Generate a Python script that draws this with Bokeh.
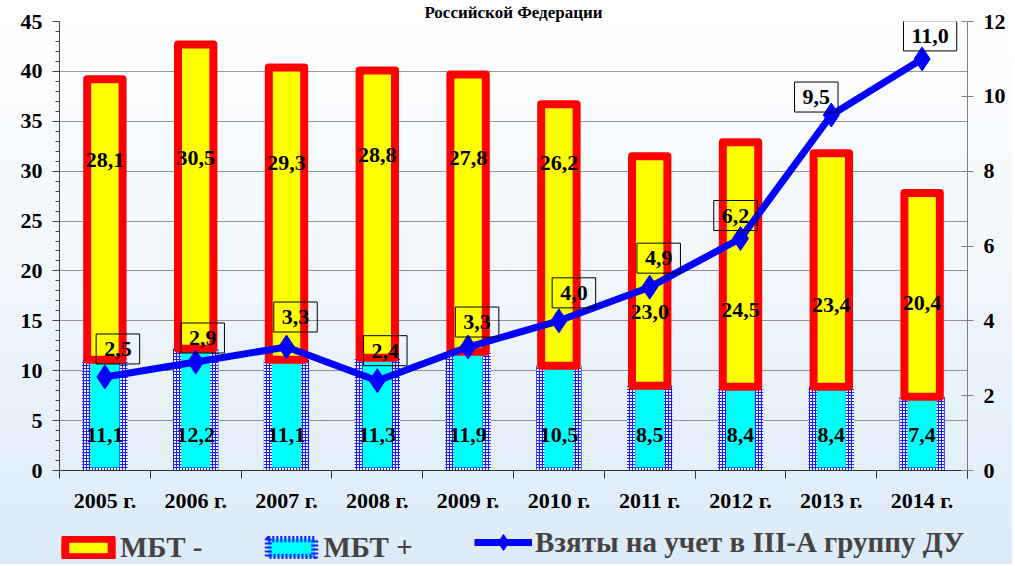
import numpy as np
from bokeh.plotting import figure
from bokeh.layouts import column
from bokeh.models import (Range1d, LinearAxis, FixedTicker, Legend, LegendItem,
                          ColumnDataSource)
from bokeh.core.properties import value
from bokeh.embed import file_html
from bokeh.resources import INLINE

# ---------------- data ----------------
years = ["2005 г.", "2006 г.", "2007 г.", "2008 г.", "2009 г.",
         "2010 г.", "2011 г.", "2012 г.", "2013 г.", "2014 г."]
mbt_plus = [11.1, 12.2, 11.1, 11.3, 11.9, 10.5, 8.5, 8.4, 8.4, 7.4]
mbt_minus = [28.1, 30.5, 29.3, 28.8, 27.8, 26.2, 23.0, 24.5, 23.4, 20.4]
group_3a = [2.5, 2.9, 3.3, 2.4, 3.3, 4.0, 4.9, 6.2, 9.5, 11.0]
left_ticks = [0, 5, 10, 15, 20, 25, 30, 35, 40, 45]
right_ticks = [0, 2, 4, 6, 8, 10, 12]
series_names = ["МБТ -", "МБТ +", "Взяты на учет в III-А группу ДУ"]
title_text = "Российской Федерации"

# ---------------- label layout ----------------
minus_label_y = [31.1, 31.3, 30.8, 31.6, 31.3, 30.8, 15.9, 16.1, 16.6, 16.8]
plus_label_y = 3.6
box_dx = [13, 7, 9, 8, 9, 15, 9, -5, -15, 8]
box_dy = [28, 24, 30, 30, 25, 28, 29, 23, 18, 23]

FONT = "Liberation Serif"
W = 1012


def fmt(v):
    return f"{v:.1f}".replace(".", ",")


xs = list(range(len(years)))
totals = [a + b for a, b in zip(mbt_plus, mbt_minus)]

src = ColumnDataSource(dict(
    x=xs, plus=mbt_plus, total=totals, g=group_3a,
    glab=[fmt(v) for v in group_3a], dx=box_dx, dy=[-d for d in box_dy],
))

p = figure(width=W, height=515, x_range=Range1d(-0.5, 9.5), y_range=Range1d(0, 45),
           output_backend="svg", toolbar_location=None,
           min_border_left=59, min_border_right=45, min_border_top=20, min_border_bottom=43)
p.border_fill_color = None
p.background_fill_color = None
p.outline_line_color = None

p.title.text = title_text
p.title.align = "center"
p.title.text_font = FONT
p.title.text_font_style = "bold"
p.title.text_font_size = "17px"
p.title.text_color = "black"
p.title.standoff = 0
p.title.offset = 0

# x axis: labels at centers, ticks at boundaries
p.xaxis.ticker = FixedTicker(ticks=xs, minor_ticks=[i - 0.5 for i in range(len(years) + 1)])
p.xaxis.major_label_overrides = {i: y for i, y in zip(xs, years)}
p.xaxis.major_tick_out = 0
p.xaxis.major_tick_in = 0
p.xaxis.minor_tick_out = 8
p.xaxis.minor_tick_in = 0
p.xaxis.axis_line_color = "#333333"
p.xaxis.minor_tick_line_color = "#333333"
p.xaxis.major_label_standoff = 9
p.xgrid.visible = False

# left axis
p.yaxis.ticker = FixedTicker(ticks=left_ticks, minor_ticks=list(range(0, 46)))
p.yaxis.major_tick_out = 7
p.yaxis.major_tick_in = 0
p.yaxis.minor_tick_out = 4
p.yaxis.minor_tick_in = 0
p.yaxis.axis_line_color = "#444444"
p.yaxis.major_tick_line_color = "#444444"
p.yaxis.minor_tick_line_color = "#444444"
p.yaxis.major_label_standoff = 10

p.ygrid.ticker = FixedTicker(ticks=left_ticks)
p.ygrid.grid_line_color = "#333333"
p.ygrid.grid_line_dash = "1 1"
p.ygrid.grid_line_width = 1

# right axis
p.extra_y_ranges = {"r": Range1d(0, 12)}
rax = LinearAxis(y_range_name="r", ticker=FixedTicker(ticks=right_ticks, minor_ticks=[]))
rax.major_tick_in = 6
rax.major_tick_out = 6
rax.minor_tick_line_color = None
rax.axis_line_color = "#808080"
rax.major_tick_line_color = "#808080"
rax.major_label_standoff = 10
p.add_layout(rax, "right")

for ax in [p.xaxis[0], p.yaxis[0], rax]:
    ax.major_label_text_font = FONT
    ax.major_label_text_font_style = "bold"
    ax.major_label_text_font_size = "22px"
    ax.major_label_text_color = "black"

# bars: МБТ + (hatched border, cyan core)
p.vbar(x="x", top="plus", bottom=0, width=0.5, source=src,
       fill_color="white", line_color=None,
       hatch_pattern="cross", hatch_color="#1a1aff", hatch_scale=3, hatch_weight=1.2)
p.vbar(x="x", top="plus", bottom=0.3, width=0.32, source=src, fill_color="#00ffff", line_color=None)

# bars: МБТ - (red thick border, yellow)
p.vbar(x="x", bottom="plus", top="total", width=0.39, source=src,
       fill_color="#ffff00", line_color="#ff0000", line_width=8, line_join="round")

# line
p.line(x="x", y="g", source=src, y_range_name="r", line_width=7, color="#0000ff")
p.scatter(x="x", y="g", source=src, y_range_name="r", marker="diamond", size=24, color="#0000ff")

# value labels
p.text(x=xs, y=[plus_label_y] * len(xs), text=[fmt(v) for v in mbt_plus],
       text_font=value(FONT), text_font_style="bold", text_font_size="22px",
       text_align="center", text_baseline="middle", text_color="black")
p.text(x=xs, y=minus_label_y, text=[fmt(v) for v in mbt_minus],
       text_font=value(FONT), text_font_style="bold", text_font_size="22px",
       text_align="center", text_baseline="middle", text_color="black")

# boxed labels for the line
p.text(x="x", y="g", text="glab", source=src, y_range_name="r",
       x_offset="dx", y_offset="dy",
       text_font=value(FONT), text_font_style="bold", text_font_size="22px",
       text_align="center", text_baseline="middle", text_color="black",
       border_line_color="black", border_line_width=1,
       background_fill_color=None, padding=8)

# ---------------- legend strip ----------------
lp = figure(width=W, height=49, x_range=Range1d(0, 1), y_range=Range1d(0, 1),
            output_backend="svg", toolbar_location=None, min_border=0,
            x_axis_location=None, y_axis_location=None)
lp.grid.visible = False
lp.outline_line_color = None
lp.border_fill_color = None
lp.background_fill_color = None

# proxy glyphs (hidden; only their legend swatches show)
g1 = lp.vbar(x=[-100], top=[-100], bottom=[-101], width=0.1, fill_color="#ffff00",
             line_color="#ff0000", line_width=8, line_join="round")
g2 = lp.vbar(x=[-100], top=[-100], bottom=[-101], width=0.1, fill_color="#00ffff",
             line_color="#1a1aff", line_width=7, line_dash="2 2")
g3 = lp.line(x=[-100, -99], y=[-100, -100], line_width=7, color="#0000ff")
g4 = lp.scatter(x=[-100], y=[-100], marker="diamond", size=22, color="#0000ff")
for g in (g1, g2, g3, g4):
    g.visible = False


def style_legend(lg):
    lg.background_fill_alpha = 0
    lg.border_line_color = None
    lg.label_text_font = FONT
    lg.label_text_font_style = "bold"
    lg.label_text_font_size = "29px"
    lg.glyph_width = 58
    lg.label_standoff = 3
    lg.padding = 0
    lg.margin = 0
    lg.click_policy = "none"


# the legend strip's frame is aligned with the chart frame (starts at x=59)
legend_a = Legend(items=[
    LegendItem(label=series_names[0], renderers=[g1]),
    LegendItem(label=series_names[1], renderers=[g2]),
], orientation="horizontal", location=(0, 0))
style_legend(legend_a)
legend_a.glyph_height = 23
legend_a.spacing = 60
lp.add_layout(legend_a)

legend_b = Legend(items=[
    LegendItem(label=series_names[2], renderers=[g3, g4]),
], orientation="horizontal", location=(415, 2))
style_legend(legend_b)
legend_b.glyph_height = 40
lp.add_layout(legend_b)

layout = column(p, lp, spacing=0)
layout.styles = {"background-image": "linear-gradient(to bottom, #ffffff 0%, #f2f7fc 45%, #dcebf8 100%)"}

open("out.html", "w").write(file_html(layout, INLINE))
